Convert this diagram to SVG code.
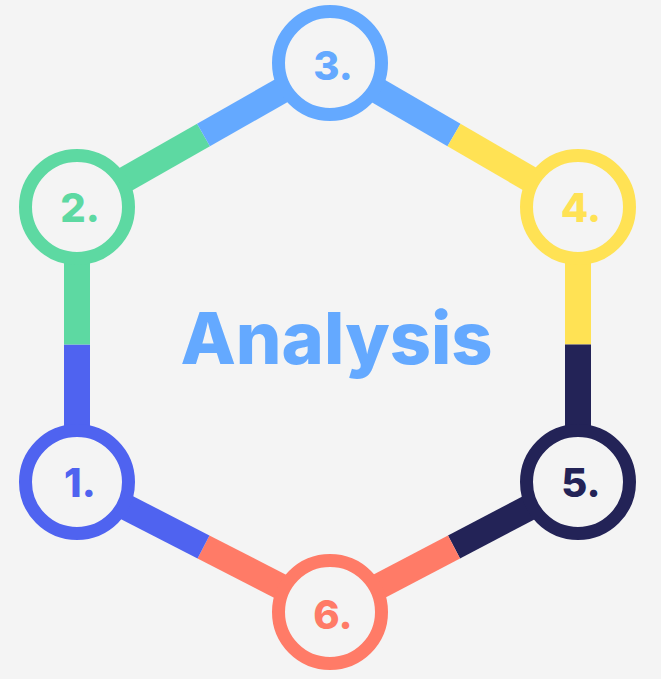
<svg xmlns="http://www.w3.org/2000/svg" width="661" height="679" viewBox="0 0 661 679">
  <style>
    .seg { stroke-width: 26; stroke-linecap: butt; fill: none; }
    .ring { stroke-width: 13; fill: #F4F4F4; }
    .num { font-family: Inter, "Liberation Sans", sans-serif; font-weight: 800; font-size: 40px; text-anchor: middle; }
    .title { font-family: Inter, "Liberation Sans", sans-serif; font-weight: 800; font-size: 72px; text-anchor: middle; fill: #64A9FF; }
  </style>
  <rect width="661" height="679" fill="#F4F4F4"/>
  <g id="connectors">
    <line class="seg" x1="77" y1="482" x2="77" y2="344.5" stroke="#4F63F0"/>
    <line class="seg" x1="77" y1="344.5" x2="77" y2="207" stroke="#5DD9A2"/>
    <line class="seg" x1="77" y1="207" x2="203.5" y2="135" stroke="#5DD9A2"/>
    <line class="seg" x1="203.5" y1="135" x2="330" y2="63" stroke="#64A9FF"/>
    <line class="seg" x1="330" y1="63" x2="454" y2="135" stroke="#64A9FF"/>
    <line class="seg" x1="454" y1="135" x2="578" y2="207" stroke="#FFE254"/>
    <line class="seg" x1="578" y1="207" x2="578" y2="344.5" stroke="#FFE254"/>
    <line class="seg" x1="578" y1="344.5" x2="578" y2="482" stroke="#232357"/>
    <line class="seg" x1="578" y1="482" x2="454" y2="547" stroke="#232357"/>
    <line class="seg" x1="454" y1="547" x2="330" y2="612" stroke="#FF7B67"/>
    <line class="seg" x1="330" y1="612" x2="203.5" y2="547" stroke="#FF7B67"/>
    <line class="seg" x1="203.5" y1="547" x2="77" y2="482" stroke="#4F63F0"/>
  </g>
  <g id="node1">
    <circle class="ring" cx="77" cy="482" r="51.5" stroke="#4F63F0"/>
    <text class="num" x="80" y="497" fill="#4F63F0">1.</text>
  </g>
  <g id="node2">
    <circle class="ring" cx="77" cy="207" r="51.5" stroke="#5DD9A2"/>
    <text class="num" x="80" y="222" fill="#5DD9A2">2.</text>
  </g>
  <g id="node3">
    <circle class="ring" cx="330" cy="63" r="51.5" stroke="#64A9FF"/>
    <text class="num" x="333" y="80" fill="#64A9FF">3.</text>
  </g>
  <g id="node4">
    <circle class="ring" cx="578" cy="207" r="51.5" stroke="#FFE254"/>
    <text class="num" x="581" y="222" fill="#FFE254">4.</text>
  </g>
  <g id="node5">
    <circle class="ring" cx="578" cy="482" r="51.5" stroke="#232357"/>
    <text class="num" x="581" y="497" fill="#232357">5.</text>
  </g>
  <g id="node6">
    <circle class="ring" cx="330" cy="612" r="51.5" stroke="#FF7B67"/>
    <text class="num" x="333" y="629" fill="#FF7B67">6.</text>
  </g>
  <g id="title">
    <text class="title" x="336.5" y="364">Analysis</text>
  </g>
</svg>
